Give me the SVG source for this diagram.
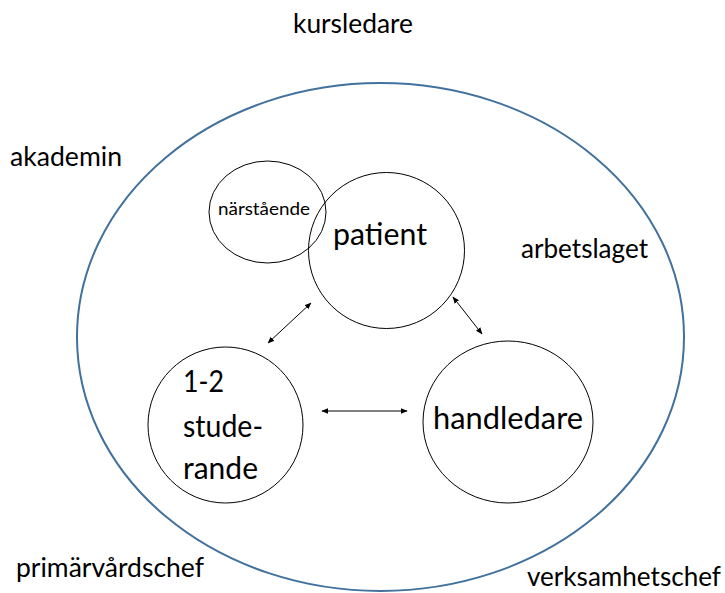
<svg xmlns="http://www.w3.org/2000/svg" width="725" height="593" viewBox="0 0 725 593">
<style>
.t{font-family:Lato,"Noto Sans","DejaVu Sans",sans-serif;fill:#000}
.lbl{font-size:26px}
.big{font-size:30px}
.sm{font-size:18px}
.c{fill:none;stroke:#000;stroke-width:1}
.conn{stroke:#000;stroke-width:1;fill:none;marker-start:url(#ah);marker-end:url(#ah)}
</style>
<defs>
<marker id="ah" viewBox="0 0 10 10" refX="9" refY="5" markerWidth="7" markerHeight="7" markerUnits="userSpaceOnUse" orient="auto-start-reverse">
<path d="M0,1 L10,5 L0,9 Z" fill="#000"/>
</marker>
</defs>
<rect width="725" height="593" fill="#fff"/>
<g id="outer">
<ellipse cx="380.5" cy="337" rx="303.5" ry="254" fill="none" stroke="#41719C" stroke-width="2"/>
</g>
<g id="labels">
<text class="t lbl" x="293" y="33" textLength="120" lengthAdjust="spacingAndGlyphs">kursledare</text>
<text class="t lbl" x="10" y="166" textLength="112" lengthAdjust="spacingAndGlyphs">akademin</text>
<text class="t lbl" x="521" y="258" textLength="127" lengthAdjust="spacingAndGlyphs">arbetslaget</text>
<text class="t lbl" x="16" y="577" textLength="188" lengthAdjust="spacingAndGlyphs">primärvårdschef</text>
<text class="t lbl" x="527" y="586" textLength="194" lengthAdjust="spacingAndGlyphs">verksamhetschef</text>
</g>
<g id="narstaende">
<ellipse class="c" cx="267.5" cy="212" rx="58.5" ry="51"/>
<text class="t sm" x="218" y="215" textLength="92" lengthAdjust="spacingAndGlyphs">närstående</text>
</g>
<g id="patient">
<circle class="c" cx="386.5" cy="250.5" r="78"/>
<text class="t big" x="333" y="245" textLength="94" lengthAdjust="spacingAndGlyphs">patient</text>
</g>
<g id="studerande">
<ellipse class="c" cx="225.5" cy="425" rx="77.5" ry="78"/>
<text class="t big" x="183" y="392" textLength="41" lengthAdjust="spacingAndGlyphs">1-2</text>
<text class="t big" x="183" y="437" textLength="80" lengthAdjust="spacingAndGlyphs">stude-</text>
<text class="t big" x="183" y="479" textLength="75" lengthAdjust="spacingAndGlyphs">rande</text>
</g>
<g id="handledare">
<ellipse class="c" cx="508" cy="422" rx="85" ry="81"/>
<text class="t big" x="433" y="429" textLength="150" lengthAdjust="spacingAndGlyphs">handledare</text>
</g>
<g id="connectors">
<line class="conn" x1="268" y1="343" x2="311" y2="303"/>
<line class="conn" x1="453" y1="297" x2="482" y2="334"/>
<line class="conn" x1="322" y1="411" x2="407" y2="411"/>
</g>
</svg>
